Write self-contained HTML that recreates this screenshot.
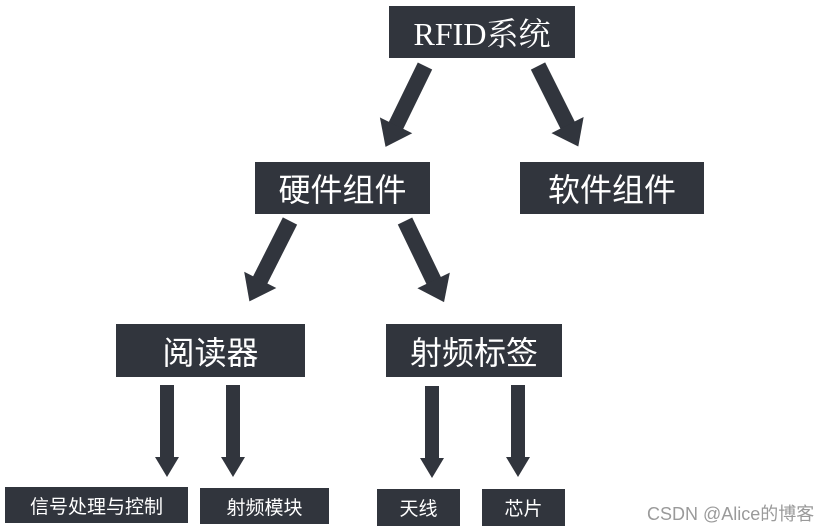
<!DOCTYPE html>
<html><head><meta charset="utf-8"><style>
body{margin:0;width:835px;height:531px;background:#fff;position:relative;overflow:hidden;font-family:"Liberation Sans","Noto Sans CJK SC",sans-serif}
.b{position:absolute;background:#31353d;color:#fff;display:flex;align-items:center;justify-content:center;white-space:nowrap}
.l{font-size:32px}.s{font-size:19px}
svg{position:absolute;left:0;top:0}
</style></head><body>
<svg width="835" height="531">
<defs>
<g id="d"><rect x="-8" y="0" width="16" height="68" fill="#31353d"/><polygon points="-18,66 18,66 0,90" fill="#31353d"/></g>
<g id="v"><rect x="-7" y="0" width="14" height="74" fill="#31353d"/><polygon points="-12,72 12,72 0,92" fill="#31353d"/></g>
</defs>
<use href="#d" transform="translate(425,66) rotate(26)"/>
<use href="#d" transform="translate(538,66) rotate(-26.6)"/>
<use href="#d" transform="translate(290,221) rotate(26.8)"/>
<use href="#d" transform="translate(405,221) rotate(-25.7)"/>
<use href="#v" transform="translate(167,385)"/>
<use href="#v" transform="translate(233,385)"/>
<use href="#v" transform="translate(432,386)"/>
<use href="#v" transform="translate(518,385)"/>
</svg>
<div class="b l" style="left:389px;top:6px;width:186px;height:52px"><span style="font-family:'Liberation Serif','Noto Serif CJK SC',serif">RFID系统</span></div>
<div class="b l" style="left:255px;top:162px;width:175px;height:52px">硬件组件</div>
<div class="b l" style="left:520px;top:162px;width:184px;height:52px">软件组件</div>
<div class="b l" style="left:116px;top:324px;width:189px;height:53px">阅读器</div>
<div class="b l" style="left:386px;top:324px;width:176px;height:53px">射频标签</div>
<div class="b s" style="left:5px;top:487px;width:183px;height:36px">信号处理与控制</div>
<div class="b s" style="left:200px;top:488px;width:129px;height:36px">射频模块</div>
<div class="b s" style="left:377px;top:489px;width:83px;height:37px">天线</div>
<div class="b s" style="left:482px;top:489px;width:83px;height:37px">芯片</div>
<div style="position:absolute;left:647px;top:500px;font-size:18px;color:#9a9a9a">CSDN @Alice的博客</div>
</body></html>
